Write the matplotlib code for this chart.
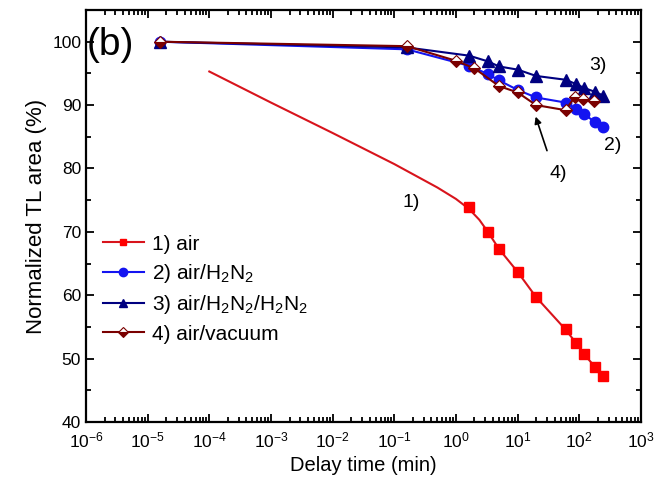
import matplotlib.pyplot as plt
from matplotlib.lines import Line2D
from matplotlib.ticker import LogLocator, MultipleLocator, NullFormatter

plt.rcParams['font.family'] = ['Liberation Sans', 'DejaVu Sans']
plt.rcParams['mathtext.fontset'] = 'custom'
plt.rcParams['mathtext.rm'] = 'Liberation Sans'

# 1) air: measured points and fitted curve
air_t = [1.64, 3.3, 5.0, 10, 20, 60, 90, 120, 180, 245]
air_y = [74.0, 70.0, 67.3, 63.7, 59.7, 54.6, 52.4, 50.7, 48.7, 47.3]
fit_t = [1e-4, 1e-3, 1e-2, 0.1, 0.5, 1.0, 1.64, 2.4, 3.3, 5.0, 10, 20, 60, 90, 120, 180, 245]
fit_y = [95.3, 90.4, 85.6, 80.7, 77.0, 75.2, 73.6, 71.9, 70.0, 67.3, 63.7, 59.7, 54.6, 52.4, 50.7, 48.7, 47.3]

# 2) air/H2N2 and 3) air/H2N2/H2N2
t23 = [1.6e-5, 0.16, 1.64, 3.3, 5.0, 10, 20, 60, 90, 120, 180, 245]
h2_y = [100, 98.8, 96.2, 94.9, 93.9, 92.4, 91.2, 90.4, 89.4, 88.6, 87.3, 86.5]
h3_y = [100, 99.1, 97.8, 96.9, 96.1, 95.6, 94.6, 94.0, 93.3, 92.7, 92.1, 91.5]

# 4) air/vacuum
vac_t = [1.6e-5, 0.16, 1.0, 2.0, 5.0, 10, 20, 60, 85, 116, 175]
vac_y = [100, 99.3, 97.0, 95.8, 93.0, 92.0, 90.0, 89.2, 91.3, 91.0, 90.7]

labels = ['1) air', '2) air/H$_2$N$_2$', '3) air/H$_2$N$_2$/H$_2$N$_2$', '4) air/vacuum']

red = '#d8141c'
blue = '#1414f0'
navy = '#000080'
maroon = '#7a0000'

fig = plt.figure(figsize=(6.59, 4.94), dpi=100)
ax = fig.add_axes([0.1305, 0.1457, 0.842, 0.834])

ax.plot(fit_t, fit_y, color=red, lw=1.5)
ax.plot(air_t, air_y, ls='none', marker='s', ms=7, color='#ff0000')
ax.plot(t23, h2_y, color=blue, lw=1.5, marker='o', ms=7.5)
ax.plot(t23, h3_y, color=navy, lw=1.5, marker='^', ms=8)
ax.plot(vac_t, vac_y, color=maroon, lw=1.5, marker='D', ms=6.5,
        fillstyle='bottom', markerfacecoloralt='white', markeredgecolor=maroon,
        markeredgewidth=0.8)

handles = [
    Line2D([], [], color=red, lw=1.5, marker='s', ms=5, markerfacecolor='#ff0000',
           markeredgecolor='#ff0000'),
    Line2D([], [], color=blue, lw=1.5, marker='o', ms=6),
    Line2D([], [], color=navy, lw=1.5, marker='^', ms=6),
    Line2D([], [], color=maroon, lw=1.5, marker='D', ms=5, fillstyle='bottom',
           markerfacecoloralt='white', markeredgewidth=0.8),
]
ax.legend(handles, labels, loc='upper left', bbox_to_anchor=(0.015, 0.475),
          frameon=False, fontsize=15, handlelength=2.0, handletextpad=0.35,
          labelspacing=0.4, borderaxespad=0.0)

ax.set_xscale('log')
ax.set_xlim(1e-6, 1e3)
ax.set_ylim(40, 105)
ax.xaxis.set_major_locator(LogLocator(base=10, numticks=20))
ax.xaxis.set_minor_locator(LogLocator(base=10, subs=range(2, 10), numticks=20))
ax.xaxis.set_minor_formatter(NullFormatter())
ax.yaxis.set_major_locator(MultipleLocator(10))
ax.yaxis.set_minor_locator(MultipleLocator(5))
ax.tick_params(which='both', direction='in', top=True, right=True, width=1.3, labelsize=12.5)
ax.tick_params(axis='x', which='major', pad=6)
ax.tick_params(which='major', length=6)
ax.tick_params(which='minor', length=3.5)
for s in ax.spines.values():
    s.set_linewidth(1.6)

ax.set_xlabel('Delay time (min)', fontsize=14.5)
ax.set_ylabel('Normalized TL area (%)', fontsize=16)

ax.text(0.002, 0.915, '(b)', transform=ax.transAxes, fontsize=28, va='center', ha='left')
ax.text(0.19, 74.7, '1)', fontsize=14, ha='center', va='center')
ax.text(352, 83.7, '2)', fontsize=14, ha='center', va='center')
ax.text(200, 96.2, '3)', fontsize=14, ha='center', va='center')
ax.text(45, 79.2, '4)', fontsize=14, ha='center', va='center')
ax.annotate('', xy=(19, 88.6), xytext=(31, 82.4),
            arrowprops=dict(arrowstyle='-|>', color='black', lw=1.2, mutation_scale=10))

fig.savefig('out.png', dpi=100)
